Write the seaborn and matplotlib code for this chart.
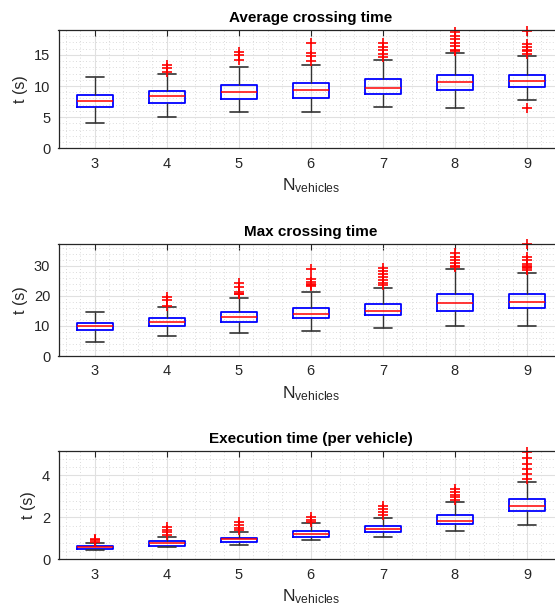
import numpy as np
import pandas as pd
import matplotlib
matplotlib.use("Agg")
import matplotlib.pyplot as plt
import seaborn as sns
from matplotlib.ticker import MultipleLocator

# ---------------- data ----------------
n_vehicles = ["3", "4", "5", "6", "7", "8", "9"]

# Average crossing time
avg_low = [4.08, 5.0, 5.9, 5.9, 6.7, 6.54, 7.7]
avg_q1 = [6.64, 7.28, 7.9, 8.13, 8.71, 9.3, 9.78]
avg_med = [7.65, 8.4, 9.03, 9.3, 9.62, 10.69, 10.73]
avg_q3 = [8.55, 9.19, 10.2, 10.41, 11.05, 11.8, 11.8]
avg_high = [11.4, 12.0, 13.08, 13.34, 14.19, 15.36, 14.77]
avg_fliers = [
    [],
    [13.4, 12.86, 12.3],
    [15.47, 15.0, 14.24],
    [16.9, 15.3, 14.9, 14.1],
    [16.85, 16.3, 15.8, 15.2, 14.7],
    [18.7, 18.0, 17.5, 16.95, 16.36, 15.8, 15.57],
    [18.9, 16.73, 16.2, 15.79, 15.57, 15.09, 6.54],
]

# Max crossing time
max_low = [4.8, 6.67, 7.67, 8.44, 9.2, 10.0, 10.0]
max_q1 = [8.5, 9.9, 11.44, 12.6, 13.67, 14.9, 16.0]
max_med = [9.9, 11.33, 13.1, 13.9, 15.1, 17.56, 18.1]
max_q3 = [11.0, 12.56, 14.67, 16.1, 17.33, 20.56, 20.78]
max_high = [14.7, 16.33, 19.2, 21.2, 22.56, 28.9, 27.67]
max_fliers = [
    [],
    [19.6, 18.6, 16.8],
    [24.2, 23.0, 21.2, 20.8, 20.5],
    [28.9, 25.6, 24.5, 24.0, 23.6, 23.3],
    [29.2, 28.3, 27.2, 26.2, 25.3, 24.4, 23.7],
    [34.2, 33.0, 32.0, 30.9, 30.0, 29.6],
    [37.2, 33.1, 32.0, 30.6, 30.0, 29.6, 29.2, 28.8],
]

# Execution time (per vehicle)
exe_low = [0.42, 0.57, 0.7, 0.92, 1.06, 1.33, 1.65]
exe_q1 = [0.5, 0.65, 0.84, 1.08, 1.31, 1.67, 2.3]
exe_med = [0.57, 0.76, 0.95, 1.22, 1.46, 1.84, 2.55]
exe_q3 = [0.63, 0.86, 1.03, 1.36, 1.59, 2.12, 2.86]
exe_high = [0.76, 1.05, 1.3, 1.71, 1.95, 2.74, 3.68]
exe_fliers = [
    [0.98, 0.9, 0.84],
    [1.55, 1.4, 1.28, 1.18],
    [1.8, 1.65, 1.5, 1.38],
    [2.0, 1.88, 1.8],
    [2.55, 2.4, 2.25, 2.1],
    [3.33, 3.2, 3.08, 2.95, 2.82],
    [5.12, 4.82, 4.55, 4.3, 4.05, 3.81],
]

titles = ["Average crossing time", "Max crossing time", "Execution time (per vehicle)"]


def build_table(low, q1, med, q3, high, fliers, reps=50):
    """Table whose box statistics equal the five-number summaries above."""
    rows = []
    for cat, lo, a, m, b, hi, fl in zip(n_vehicles, low, q1, med, q3, high, fliers):
        for v in (lo, a, m, b, hi):
            rows += [(cat, v)] * reps
        rows += [(cat, v) for v in fl]
    return pd.DataFrame(rows, columns=["N", "t"])


tables = [
    build_table(avg_low, avg_q1, avg_med, avg_q3, avg_high, avg_fliers),
    build_table(max_low, max_q1, max_med, max_q3, max_high, max_fliers),
    build_table(exe_low, exe_q1, exe_med, exe_q3, exe_high, exe_fliers),
]

# ---------------- style ----------------
sns.set_style("white")
plt.rcParams["font.family"] = ["Liberation Sans", "DejaVu Sans"]
plt.rcParams["mathtext.fontset"] = "custom"
plt.rcParams["mathtext.rm"] = "Liberation Sans"
plt.rcParams["mathtext.it"] = "Liberation Sans"

txt = "#262626"
fig = plt.figure(figsize=(5.55, 6.14), dpi=100)

# axes rectangles in pixels: (top, bottom)
W, H = 555.0, 614.0
left_px, right_px = 58.5, 563.0
rects = [(30.0, 148.3), (244.0, 356.0), (451.0, 559.3)]
ylims = [19.0, 37.3, 5.16]
ymajor = [5, 10, 2]
yminor = [1, 2, 0.4]

for i, (df, title) in enumerate(zip(tables, titles)):
    top, bot = rects[i]
    ax = fig.add_axes([left_px / W, 1 - bot / H, (right_px - left_px) / W, (bot - top) / H])
    ax.set_axisbelow(True)
    sns.boxplot(
        data=df, x="N", y="t", order=n_vehicles, ax=ax,
        fill=False, width=0.5, whis=1.5, color="blue", linewidth=1.0,
        fliersize=7,
        boxprops={"color": "blue", "linewidth": 1.3},
        medianprops={"color": "red", "linewidth": 1.1},
        whiskerprops={"color": "#333333", "linewidth": 1.0},
        capprops={"color": "#333333", "linewidth": 1.2},
        flierprops={"marker": "+", "markeredgecolor": "red", "markerfacecolor": "red",
                    "markeredgewidth": 1.2, "clip_on": False},
    )
    ax.set_xlim(-0.5, 6.5)
    ax.set_ylim(0, ylims[i])
    ax.yaxis.set_major_locator(MultipleLocator(ymajor[i]))
    ax.yaxis.set_minor_locator(MultipleLocator(yminor[i]))
    ax.xaxis.set_minor_locator(MultipleLocator(0.2))
    ax.grid(True, which="major", color="#e0e0e0", linewidth=0.8, linestyle="-")
    ax.grid(True, which="minor", color="#cfcfcf", linewidth=0.6, linestyle=(0, (1, 3)))
    ax.tick_params(axis="both", which="major", direction="in", length=4, width=0.8,
                   colors=txt, labelsize=10.5, top=True, right=False, pad=6)
    ax.tick_params(axis="both", which="minor", length=0)
    for s in ["left", "bottom", "top"]:
        ax.spines[s].set_visible(True)
        ax.spines[s].set_color(txt)
        ax.spines[s].set_linewidth(0.9)
    ax.spines["right"].set_visible(False)
    ax.set_title(title, fontsize=11, fontweight="bold", color="black", pad=6)
    ax.set_ylabel("t (s)", fontsize=11.5, color=txt, labelpad=4)
    ax.set_xlabel(r"N$_{\mathrm{vehicles}}$", fontsize=12.5, color=txt, labelpad=4)

fig.savefig("out.png", dpi=100)
